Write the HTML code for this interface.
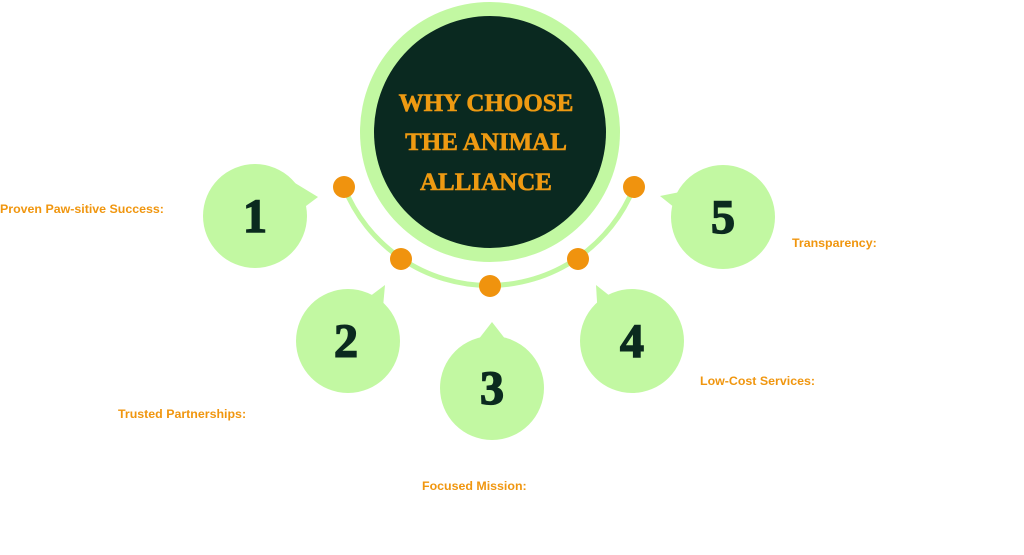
<!DOCTYPE html>
<html><head><meta charset="utf-8"><style>
html,body{margin:0;padding:0;background:#fff;width:1024px;height:555px;overflow:hidden}
svg{display:block}
.lbl{font-family:"Liberation Sans",sans-serif;font-weight:bold;font-size:12.4px;fill:#f0960f}
.num{font-family:"Liberation Serif",serif;font-weight:bold;font-size:48px;fill:#0b2a1f;stroke:#0b2a1f;stroke-width:1.5}
.ttl{font-family:"Liberation Serif",serif;font-weight:bold;font-size:25px;fill:#ee9a12;stroke:#ee9a12;stroke-width:0.6}
</style></head><body>
<svg width="1024" height="555" viewBox="0 0 1024 555">
<path d="M344 187 A156 156 0 0 0 634 187" fill="none" stroke="#c2f8a2" stroke-width="5"/>
<circle cx="490" cy="132" r="130" fill="#c2f8a2"/>
<circle cx="490" cy="132" r="116" fill="#0a2920"/>
<text class="ttl" x="486" y="111" text-anchor="middle">WHY CHOOSE</text>
<text class="ttl" x="486" y="150" text-anchor="middle">THE ANIMAL</text>
<text class="ttl" x="486" y="190" text-anchor="middle">ALLIANCE</text>
<g fill="#c2f8a2">
<circle cx="255" cy="216" r="52"/><polygon points="290,180 318,197 298,212"/>
<circle cx="348" cy="341" r="52"/><polygon points="365,300 385,285 382,318"/>
<circle cx="492" cy="388" r="52"/><polygon points="478,340 492,322 506,340"/>
<circle cx="632" cy="341" r="52"/><polygon points="598,318 596,285 615,300"/>
<circle cx="723" cy="217" r="52"/><polygon points="680,212 660,196 690,190"/>
</g>
<text class="num" x="255" y="232" text-anchor="middle">1</text>
<text class="num" x="346" y="357" text-anchor="middle">2</text>
<text class="num" x="492" y="404" text-anchor="middle">3</text>
<text class="num" x="632" y="357" text-anchor="middle">4</text>
<text class="num" x="723" y="233" text-anchor="middle">5</text>
<g fill="#f0930e">
<circle cx="344" cy="187" r="11"/><circle cx="401" cy="259" r="11"/><circle cx="490" cy="286" r="11"/><circle cx="578" cy="259" r="11"/><circle cx="634" cy="187" r="11"/>
</g>
<text class="lbl" x="0" y="213">Proven Paw-sitive Success:</text>
<text class="lbl" x="792" y="247">Transparency:</text>
<text class="lbl" x="700" y="385">Low-Cost Services:</text>
<text class="lbl" x="118" y="418">Trusted Partnerships:</text>
<text class="lbl" x="422" y="490">Focused Mission:</text>
</svg>
</body></html>
